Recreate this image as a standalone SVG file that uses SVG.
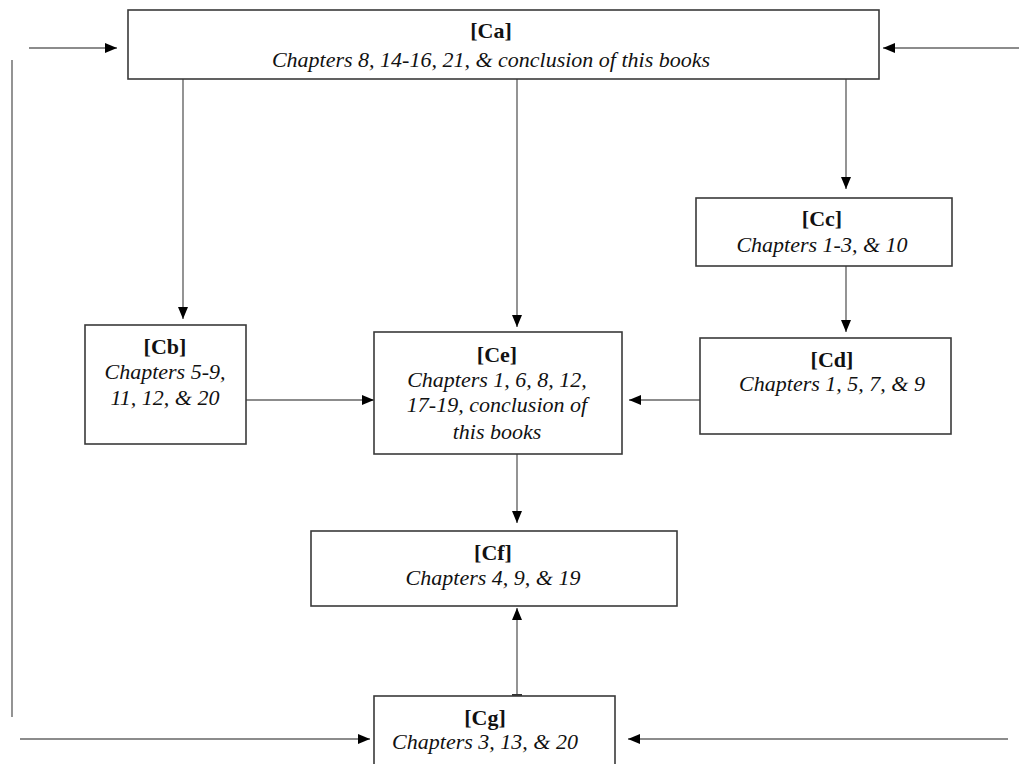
<svg xmlns="http://www.w3.org/2000/svg" width="1019" height="764" viewBox="0 0 1019 764">
<style>
.box{fill:#fff;stroke:#3a3a3a;stroke-width:1.6}
text{font-family:'Liberation Serif','Times New Roman','DejaVu Serif',serif;font-size:22px;fill:#111;text-anchor:middle}
.lbl{font-weight:bold}
.txt{font-style:italic}
.con{stroke:#666;stroke-width:1.4;fill:none}
.arr{marker-end:url(#ah)}
</style>
<defs>
<marker id="ah" markerUnits="userSpaceOnUse" markerWidth="12" markerHeight="10" refX="12" refY="5" orient="auto">
<path d="M0,0 L12,5 L0,10 z" fill="#000"/>
</marker>
</defs>
<rect width="1019" height="764" fill="#fff"/>
<g id="connectors">
<line class="con arr" x1="29" y1="48" x2="117" y2="48"/>
<line class="con arr" x1="1019" y1="48" x2="883" y2="48"/>
<line class="con" x1="12" y1="60" x2="12" y2="717"/>
<line class="con arr" x1="183" y1="79" x2="183" y2="319"/>
<line class="con arr" x1="517" y1="79" x2="517" y2="327"/>
<line class="con arr" x1="846" y1="79" x2="846" y2="189"/>
<line class="con arr" x1="846" y1="266" x2="846" y2="332"/>
<line class="con arr" x1="246" y1="400" x2="374" y2="400"/>
<line class="con arr" x1="700" y1="400" x2="629" y2="400"/>
<line class="con arr" x1="517" y1="454" x2="517" y2="523"/>
<line class="con arr" x1="517" y1="696" x2="517" y2="608"/>
<line x1="512" y1="695" x2="522" y2="695" stroke="#333" stroke-width="2"/>
<line class="con arr" x1="20" y1="739" x2="370" y2="739"/>
<line class="con arr" x1="1008" y1="739" x2="628" y2="739"/>
</g>
<g id="Ca" font-family="Liberation Serif, serif">
<rect class="box" x="128" y="10" width="751" height="69"/>
<text class="lbl" x="491" y="38">[Ca]</text>
<text class="txt" x="491" y="67">Chapters 8, 14-16, 21, &amp; conclusion of this books</text>
</g>
<g id="Cb">
<rect class="box" x="85" y="325" width="161" height="119"/>
<text class="lbl" x="165" y="354">[Cb]</text>
<text class="txt" x="165" y="379">Chapters 5-9,</text>
<text class="txt" x="165" y="405">11, 12, &amp; 20</text>
</g>
<g id="Ce">
<rect class="box" x="374" y="332" width="248" height="122"/>
<text class="lbl" x="497" y="362">[Ce]</text>
<text class="txt" x="497" y="387">Chapters 1, 6, 8, 12,</text>
<text class="txt" x="497" y="412">17-19, conclusion of</text>
<text class="txt" x="497" y="439">this books</text>
</g>
<g id="Cc">
<rect class="box" x="696" y="198" width="256" height="68"/>
<text class="lbl" x="822" y="226">[Cc]</text>
<text class="txt" x="822" y="252">Chapters 1-3, &amp; 10</text>
</g>
<g id="Cd">
<rect class="box" x="700" y="338" width="251" height="96"/>
<text class="lbl" x="832" y="367">[Cd]</text>
<text class="txt" x="832" y="391">Chapters 1, 5, 7, &amp; 9</text>
</g>
<g id="Cf">
<rect class="box" x="311" y="531" width="366" height="75"/>
<text class="lbl" x="493" y="560">[Cf]</text>
<text class="txt" x="493" y="585">Chapters 4, 9, &amp; 19</text>
</g>
<g id="Cg">
<rect class="box" x="374" y="696" width="241" height="80"/>
<text class="lbl" x="485" y="725">[Cg]</text>
<text class="txt" x="485" y="749">Chapters 3, 13, &amp; 20</text>
</g>
</svg>
